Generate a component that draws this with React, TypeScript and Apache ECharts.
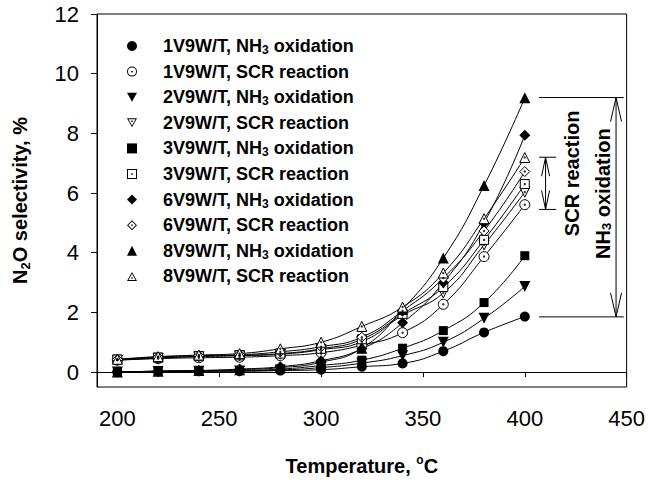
import React, { useEffect, useRef } from 'react';
import * as echarts from 'echarts';

const temperatures = [200, 220, 240, 260, 280, 300, 320, 340, 360, 380, 400];
const nh3_1V = [0.0, 0.02, 0.03, 0.03, 0.05, 0.08, 0.18, 0.29, 0.7, 1.33, 1.86];
const scr_1V = [0.4, 0.45, 0.48, 0.5, 0.55, 0.65, 0.9, 1.32, 2.27, 3.87, 5.61];
const nh3_2V = [0.0, 0.02, 0.03, 0.04, 0.07, 0.15, 0.3, 0.55, 1.0, 1.8, 2.87];
const scr_2V = [0.4, 0.47, 0.52, 0.55, 0.6, 0.75, 1.02, 1.9, 2.65, 4.26, 6.03];
const nh3_3V = [0.0, 0.03, 0.04, 0.05, 0.1, 0.22, 0.4, 0.8, 1.39, 2.33, 3.9];
const scr_3V = [0.42, 0.48, 0.53, 0.56, 0.62, 0.78, 1.1, 1.95, 2.85, 4.43, 6.3];
const nh3_6V = [0.0, 0.03, 0.05, 0.1, 0.18, 0.38, 0.78, 1.65, 3.0, 5.0, 7.94];
const scr_6V = [0.42, 0.5, 0.55, 0.58, 0.68, 0.85, 1.17, 2.05, 3.15, 4.73, 6.72];
const nh3_8V = [0.0, 0.03, 0.05, 0.08, 0.15, 0.33, 0.8, 2.1, 3.82, 6.25, 9.19];
const scr_8V = [0.43, 0.52, 0.57, 0.62, 0.78, 1.0, 1.53, 2.18, 3.32, 5.14, 7.19];

const xTicks = [200, 250, 300, 350, 400, 450];
const yTicks = [0, 2, 4, 6, 8, 10, 12];

// annotation values (data units)
const nh3Range = [9.2, 1.85];
const scrRange = [7.2, 5.45];

const FONT = '"Liberation Sans", Arial, sans-serif';

const P_DOWN = 'path://M0,0L20,0L10,18Z';
const R_CIRCLE =
  'path://M0,10A10,10,0,1,1,20,10A10,10,0,1,1,0,10ZM2,10A8,8,0,1,0,18,10A8,8,0,1,0,2,10ZM8.3,10A1.7,1.7,0,1,1,11.7,10A1.7,1.7,0,1,1,8.3,10Z';
const R_DOWN =
  'path://M0,0L20,0L10,18ZM3.06,1.8L10,14.29L16.94,1.8ZM8.6,4.5L11.4,4.5L11.4,7.3L8.6,7.3Z';
const R_SQUARE =
  'path://M0,0L20,0L20,20L0,20ZM2,2L2,18L18,18L18,2ZM8.5,8.5L11.5,8.5L11.5,11.5L8.5,11.5Z';
const R_DIAMOND =
  'path://M10,0L20,10L10,20L0,10ZM10,2.55L2.55,10L10,17.45L17.45,10ZM8.6,8.6L11.4,8.6L11.4,11.4L8.6,11.4Z';
const R_UP =
  'path://M10,0L20,18L0,18ZM10,3.7L3.06,16.2L16.94,16.2ZM8.6,10.7L11.4,10.7L11.4,13.5L8.6,13.5Z';

type Def = {
  name: string;
  values: number[];
  open: boolean;
  symbol: string;
  rotate: number;
  size: number;
  icon: string;
};

const defs: Def[] = [
  { name: '1V9W/T, NH3 oxidation', values: nh3_1V, open: false, symbol: 'circle', rotate: 0, size: 10, icon: 'circle' },
  { name: '1V9W/T, SCR reaction', values: scr_1V, open: true, symbol: 'circle', rotate: 0, size: 10, icon: R_CIRCLE },
  { name: '2V9W/T, NH3 oxidation', values: nh3_2V, open: false, symbol: 'triangle', rotate: 180, size: 11, icon: P_DOWN },
  { name: '2V9W/T, SCR reaction', values: scr_2V, open: true, symbol: 'triangle', rotate: 180, size: 10, icon: R_DOWN },
  { name: '3V9W/T, NH3 oxidation', values: nh3_3V, open: false, symbol: 'rect', rotate: 0, size: 9, icon: 'rect' },
  { name: '3V9W/T, SCR reaction', values: scr_3V, open: true, symbol: 'rect', rotate: 0, size: 9, icon: R_SQUARE },
  { name: '6V9W/T, NH3 oxidation', values: nh3_6V, open: false, symbol: 'diamond', rotate: 0, size: 11, icon: 'diamond' },
  { name: '6V9W/T, SCR reaction', values: scr_6V, open: true, symbol: 'diamond', rotate: 0, size: 10, icon: R_DIAMOND },
  { name: '8V9W/T, NH3 oxidation', values: nh3_8V, open: false, symbol: 'triangle', rotate: 0, size: 11, icon: 'triangle' },
  { name: '8V9W/T, SCR reaction', values: scr_8V, open: true, symbol: 'triangle', rotate: 0, size: 10, icon: R_UP },
];

export default function App() {
  const ref = useRef<HTMLDivElement>(null);

  useEffect(() => {
    if (!ref.current) return;
    const chart = echarts.init(ref.current, null, { renderer: 'svg' });

    const series: any[] = [];
    defs.forEach((d) => {
      const data = temperatures.map((t, i) => [t, d.values[i]]);
      series.push({
        type: 'line',
        name: d.name,
        data,
        smooth: 0.5,
        symbol: d.symbol,
        symbolRotate: d.rotate,
        symbolSize: d.size,
        lineStyle: { color: '#000', width: 1 },
        itemStyle: d.open
          ? { color: '#fff', borderColor: '#000', borderWidth: 1 }
          : { color: '#000', borderWidth: 0 },
        emphasis: { disabled: true },
        z: 2,
      });
    });
    defs.forEach((d) => {
      if (!d.open) return;
      series.push({
        type: 'scatter',
        name: d.name + ' (centre)',
        data: temperatures.map((t, i) => [t, d.values[i]]),
        symbol: 'circle',
        symbolSize: 2.4,
        itemStyle: { color: '#000' },
        silent: true,
        z: 5,
      });
    });

    const option: any = {
      animation: false,
      backgroundColor: '#fff',
      grid: {
        left: 96,
        right: 20,
        top: 14,
        bottom: 90,
        show: true,
        borderColor: '#000',
        borderWidth: 1,
        backgroundColor: 'transparent',
      },
      legend: {
        orient: 'vertical',
        left: 122,
        top: 31,
        itemWidth: 10,
        itemHeight: 10,
        itemGap: 5.6,
        selectedMode: false,
        data: defs.map((d) => ({
          name: d.name,
          icon: d.icon,
          itemStyle: { color: '#000', borderWidth: 0 },
        })),
        formatter: (name: string) => name.replace('NH3', 'NH{sub|3}'),
        textStyle: {
          fontFamily: FONT,
          fontSize: 18,
          fontWeight: 'bold',
          color: '#000',
          lineHeight: 20,
          padding: [0, 0, 0, 21],
          rich: {
            sub: {
              fontFamily: FONT,
              fontSize: 12,
              fontWeight: 'bold',
              color: '#000',
              lineHeight: 4,
              verticalAlign: 'bottom',
            },
          },
        },
      },
      xAxis: {
        type: 'value',
        min: 190,
        max: 450,
        axisLine: { show: true, lineStyle: { color: '#000', width: 1 } },
        axisTick: { show: true, customValues: xTicks, length: 5, lineStyle: { color: '#000', width: 1 } },
        axisLabel: { customValues: xTicks, fontFamily: FONT, fontSize: 22, color: '#000', margin: 20 },
        splitLine: { show: false },
        name: 'Temperature, {sup|o}C',
        nameLocation: 'middle',
        nameGap: 67,
        nameTextStyle: {
          fontFamily: FONT,
          fontSize: 20,
          fontWeight: 'bold',
          color: '#000',
          lineHeight: 24,
          rich: {
            sup: {
              fontFamily: FONT,
              fontSize: 12,
              fontWeight: 'bold',
              color: '#000',
              lineHeight: 15,
              verticalAlign: 'top',
            },
          },
        },
      },
      yAxis: {
        type: 'value',
        min: -0.5,
        max: 12,
        axisLine: { show: true, lineStyle: { color: '#000', width: 1 } },
        axisTick: { show: true, customValues: yTicks, length: 6, lineStyle: { color: '#000', width: 1 } },
        axisLabel: { customValues: yTicks, fontFamily: FONT, fontSize: 22, color: '#000', margin: 18 },
        splitLine: { show: false },
        name: 'N{sub|2}O selectivity, %',
        nameLocation: 'middle',
        nameRotate: 90,
        nameGap: 65,
        nameTextStyle: {
          fontFamily: FONT,
          fontSize: 20,
          fontWeight: 'bold',
          color: '#000',
          lineHeight: 24,
          rich: {
            sub: {
              fontFamily: FONT,
              fontSize: 13,
              fontWeight: 'bold',
              color: '#000',
              lineHeight: 8,
              verticalAlign: 'bottom',
            },
          },
        },
      },
      series,
    };

    chart.setOption(option);

    const px = (x: number, y: number) => chart.convertToPixel({ gridIndex: 0 }, [x, y]) as number[];
    const graphics: any[] = [];
    const stroke = { stroke: '#000', lineWidth: 1, fill: 'none' };

    const bracket = (range: number[], from: number, to: number, at: number, headLen: number, headHalf: number) => {
      const [top, bottom] = range;
      const a = px(from, top);
      const b = px(to, top);
      const c = px(from, bottom);
      const d = px(to, bottom);
      graphics.push({ type: 'line', shape: { x1: a[0], y1: a[1], x2: b[0], y2: b[1] }, style: stroke, silent: true });
      graphics.push({ type: 'line', shape: { x1: c[0], y1: c[1], x2: d[0], y2: d[1] }, style: stroke, silent: true });
      const t = px(at, top);
      const u = px(at, bottom);
      graphics.push({ type: 'line', shape: { x1: t[0], y1: t[1], x2: u[0], y2: u[1] }, style: stroke, silent: true });
      graphics.push({
        type: 'polyline',
        shape: { points: [[t[0] - headHalf, t[1] + headLen], [t[0], t[1]], [t[0] + headHalf, t[1] + headLen]] },
        style: stroke,
        silent: true,
      });
      graphics.push({
        type: 'polyline',
        shape: { points: [[u[0] - headHalf, u[1] - headLen], [u[0], u[1]], [u[0] + headHalf, u[1] - headLen]] },
        style: stroke,
        silent: true,
      });
    };
    bracket(nh3Range, 407, 448.6, 444.8, 24, 5.5);
    bracket(scrRange, 407, 415.4, 410.2, 19, 4);

    const scrPos = px(423.4, 6.66);
    const nh3Pos = px(438.5, 5.98);
    graphics.push({
      type: 'text',
      x: scrPos[0],
      y: scrPos[1],
      rotation: Math.PI / 2,
      silent: true,
      style: {
        text: 'SCR reaction',
        fontFamily: FONT,
        fontSize: 20,
        fontWeight: 'bold',
        fill: '#000',
        align: 'center',
        verticalAlign: 'middle',
      },
    });
    graphics.push({
      type: 'text',
      x: nh3Pos[0],
      y: nh3Pos[1],
      rotation: Math.PI / 2,
      silent: true,
      style: {
        text: 'NH{sub|3} oxidation',
        fontFamily: FONT,
        fontSize: 20,
        fontWeight: 'bold',
        fill: '#000',
        align: 'center',
        verticalAlign: 'middle',
        lineHeight: 20,
        rich: {
          sub: {
            fontFamily: FONT,
            fontSize: 13,
            fontWeight: 'bold',
            fill: '#000',
            lineHeight: 4,
            verticalAlign: 'bottom',
          },
        },
      },
    });

    chart.setOption({ graphic: graphics });

    return () => chart.dispose();
  }, []);

  return (
    <div
      ref={ref}
      style={{ position: 'fixed', left: 0, top: 0, width: 648, height: 483, background: '#fff' }}
    />
  );
}
